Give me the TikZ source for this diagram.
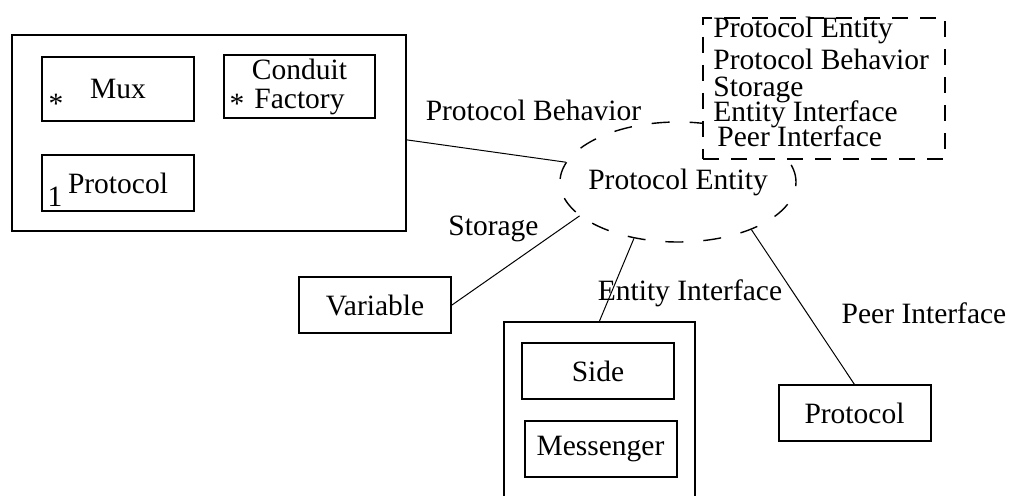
\documentclass[tikz,border=0pt]{standalone}
\usepackage{fontspec}
\setmainfont{Liberation Serif}
\usepackage{tikz}
\usetikzlibrary{positioning, shapes.geometric}

\tikzset{
  box/.style={draw, line width=1pt, minimum width=76pt, minimum height=28pt, inner sep=0pt},
  frame/.style={draw, line width=1pt, inner sep=0pt},
  role/.style={draw, ellipse, line width=0.7pt, dash pattern=on 9pt off 10pt,
               minimum width=118pt, minimum height=60pt, inner sep=0pt},
  keys/.style={draw, fill=white, line width=1.2pt, dash pattern=on 8pt off 6pt,
               minimum width=121pt, minimum height=70.5pt, inner sep=0pt},
  keyline/.style={anchor=base west, inner sep=0pt},
  link/.style={line width=0.5pt}
}

\begin{document}
\begin{tikzpicture}[x=0.5pt, y=-0.5pt, font=\fontsize{14.75}{17}\selectfont]
\clip (0,0) rectangle (1009,496);

% composite on the left
\node[frame, minimum width=197pt, minimum height=98pt] (outer) at (209,133) {};
\node[box, minimum height=32pt] (mux) at (118,89) {Mux};
\node[box, minimum width=75.5pt, minimum height=31.5pt, align=center,
      font=\fontsize{14.75}{14.5}\selectfont] (factory) at (299.5,86.5) {Conduit\\Factory};
\node[box] (inner) at (118,183) {Protocol};
\draw (56,104) node(muxmult) {*};
\draw (237,104) node(factorymult) {*};
\draw (55,197) node(innermult) {1};

% the entity in the middle
\node[role] (entity) at (678,182) {};
\node (entitytext) at (entity.center) {Protocol Entity};

% parts around it
\node[box] (variable) at (375,305) {Variable};
\node[frame, minimum width=95.5pt, minimum height=120pt, anchor=north] (holder) at (599.5,321) {};
\node[box] (side) at (598,371.5) {Side};
\node[box] (messenger) at (600.5,449) {Messenger};
\node[box] (peer) at (854.5,413.5) {Protocol};

\draw[link] (outer.-2) -- (entity.170.5);
\draw[link] (variable.east) -- (entity.199);
\draw[link] (holder.north) -- (entity.232.5);
\draw[link] (peer.north) -- (entity.327);

\draw (533.5,110) node(behavior) {Protocol Behavior};
\draw (493.5,229) node(storage) {Storage};
\draw (690,293) node(entityif) {Entity Interface};
\draw (924,313) node(peerif) {Peer Interface};

% list of roles
\node[keys] (keybox) at (824,88.5) {};
\node[keyline] (key1) at (713,38) {Protocol Entity};
\node[keyline] (key2) at (713,70) {Protocol Behavior};
\node[keyline] (key3) at (713,97) {Storage};
\node[keyline] (key4) at (713,122) {Entity Interface};
\node[keyline] (key5) at (717,147) {Peer Interface};
%
\end{tikzpicture}
\end{document}
